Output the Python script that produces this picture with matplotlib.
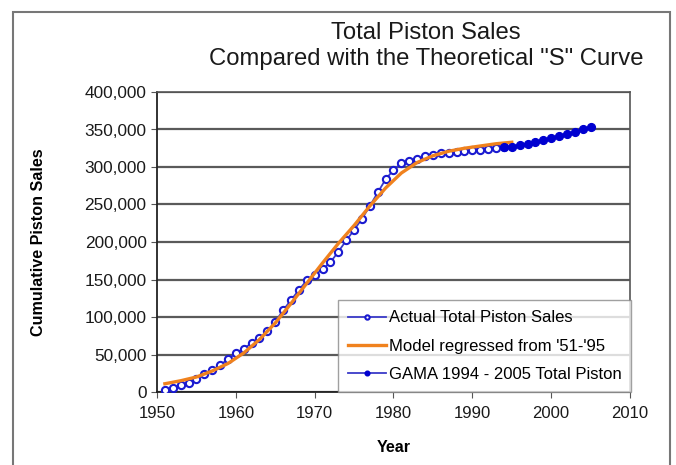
import matplotlib
matplotlib.use("Agg")
import matplotlib.pyplot as plt
from matplotlib.patches import Rectangle
from matplotlib.ticker import FuncFormatter

plt.rcParams['font.family'] = ['Liberation Sans', 'DejaVu Sans']

# Actual total piston sales (open circles)
actual_years = list(range(1951, 1995))
actual_values = [2700, 5700, 9000, 12400, 17000, 23500, 29000, 36000, 43500, 51600,
                 58000, 65000, 71600, 81000, 93700, 109000, 122700, 136000, 149000, 156000,
                 163600, 173000, 187000, 202000, 216000, 231000, 248000, 266000, 283600, 296000,
                 305000, 308000, 311000, 314000, 316000, 318000, 319000, 320000, 321000, 322000,
                 323000, 324000, 325000, 326000]

# Model regressed from '51-'95 (orange line)
model_years = [1951, 1953, 1955, 1957, 1959, 1961, 1963, 1965, 1967, 1969, 1971, 1973,
               1975, 1977, 1979, 1981, 1983, 1985, 1987, 1989, 1991, 1993, 1995]
model_values = [11000, 15000, 20000, 28000, 38000, 52000, 70000, 92000, 118000, 145000,
                172000, 198000, 222000, 248000, 272000, 292000, 306000, 315000, 321000,
                325000, 328000, 331000, 333000]

# GAMA 1994 - 2005 total piston (filled circles)
gama_years = list(range(1994, 2006))
gama_values = [326000, 327000, 329000, 330700, 333000, 335500, 338000, 341000, 344000,
               347000, 350000, 353700]

title_lines = ["Total Piston Sales", "Compared with the Theoretical \"S\" Curve"]
x_ticks = [1950, 1960, 1970, 1980, 1990, 2000, 2010]
y_ticks = [0, 50000, 100000, 150000, 200000, 250000, 300000, 350000, 400000]

fig = plt.figure(figsize=(6.76, 4.65), dpi=100)
fig.patch.set_facecolor('white')
ax = fig.add_axes([157/676, 73/465, (630-157)/676, 300/465])

blue_line = '#3a3ac8'
blue_mk = '#1a1ad0'
orange = '#f0821e'

l1, = ax.plot(actual_years, actual_values, color=blue_line, lw=1.3, marker='o',
              markersize=5.2, markerfacecolor='white', markeredgecolor=blue_mk,
              markeredgewidth=1.5, zorder=3, label='Actual Total Piston Sales')
l2, = ax.plot(model_years, model_values, color=orange, lw=2.4, zorder=4,
              label="Model regressed from '51-'95")
l3, = ax.plot(gama_years, gama_values, color=blue_line, lw=1.3, marker='o',
              markersize=5.6, markerfacecolor='#0000d0', markeredgecolor='#0000d0',
              zorder=5, label='GAMA 1994 - 2005 Total Piston')

ax.set_xlim(1950, 2010)
ax.set_ylim(0, 400000)
ax.set_xticks(x_ticks)
ax.set_yticks(y_ticks)
ax.yaxis.set_major_formatter(FuncFormatter(lambda v, p: f"{int(v):,}"))
ax.grid(axis='y', color='#5a5a5a', lw=1.6, zorder=1)
ax.set_axisbelow(True)
ax.tick_params(axis='both', labelsize=12.4, direction='out', length=4, color='#555555',
               labelcolor='#1a1a1a')
ax.tick_params(axis='x', pad=6, labelsize=12)
for s in ['left', 'bottom']:
    ax.spines[s].set_color('#222222')
    ax.spines[s].set_linewidth(1.3)
for s in ['top', 'right']:
    ax.spines[s].set_color('#555555')
    ax.spines[s].set_linewidth(1.2)

ax.set_xlabel('Year', fontsize=11.6, fontweight='bold', labelpad=14)
ax.set_ylabel('Cumulative Piston Sales', fontsize=11.6, fontweight='bold', labelpad=28)

fig.text(426/676, 1 - 33/465, title_lines[0], ha='center', va='center', fontsize=17.2,
         color='#1a1a1a')
fig.text(426/676, 1 - 59/465, title_lines[1], ha='center', va='center', fontsize=17.2,
         color='#1a1a1a')

leg = ax.legend(handles=[l1, l2, l3], loc='lower left',
                bbox_to_anchor=((338-157)/473, 0.0, (631-338)/473, (392-297)/300),
                mode='expand', fontsize=12.0, frameon=True, fancybox=False,
                handlelength=2.3, handletextpad=0.15, borderpad=0.6, labelspacing=0.8,
                borderaxespad=0.0, markerscale=0.6)
leg.get_frame().set_edgecolor('#888888')
leg.get_frame().set_linewidth(1.0)
leg.set_zorder(10)

fig.patches.append(Rectangle((13/676, -0.05), (670-13)/676, 1.05 - 12/465,
                             transform=fig.transFigure, fill=False,
                             edgecolor='#777777', lw=1.5))

fig.savefig('out.png', dpi=100, facecolor='white')
